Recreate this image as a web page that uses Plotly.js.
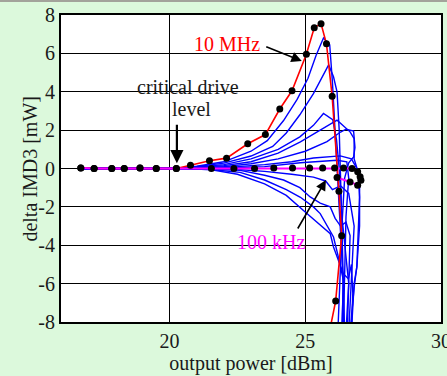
<!DOCTYPE html>
<html>
<head>
<meta charset="utf-8">
<script src="https://cdn.plot.ly/plotly-3.0.1.min.js"></script>
<style>
html,body{margin:0;padding:0;background:#dcf9dc;}
#topbar{position:absolute;left:0;top:0;width:447px;height:2px;background:#a3a39b;z-index:5;}
#chart{width:447px;height:376px;}
</style>
</head>
<body>
<div id="topbar"></div>
<div id="chart"></div>
<script>
// 10 MHz curve (red, with measured points)
const redX = [16.73, 17.22, 17.87, 18.33, 18.91, 19.51, 20.25, 20.77, 21.47, 22.10, 22.88, 23.53, 24.06, 24.51, 25.04, 25.33, 25.58, 25.78, 25.99, 26.24, 26.34, 26.12, 25.92];
const redY = [0.03, 0, 0, 0, 0.03, 0, 0, 0.17, 0.40, 0.54, 1.29, 1.77, 3.10, 4.05, 5.95, 7.34, 7.55, 6.50, 3.76, -1.18, -3.50, -6.90, -8.3];
// 100 kHz curve (magenta, with measured points)
const magX = [16.73, 17.22, 17.87, 18.33, 18.91, 19.51, 20.25, 21.54, 22.37, 23.13, 23.84, 24.53, 25.16, 25.64, 26.08, 26.41, 26.72, 26.93, 27.02, 27.05, 26.93, 26.65, 26.17];
const magY = [0.03, 0, 0, 0, 0.03, 0, 0, 0, 0, 0, 0.03, 0.03, 0.03, 0.03, 0.03, 0.03, 0, -0.17, -0.43, -0.61, -0.87, -0.70, -0.47];
// intermediate frequencies (blue)
const blue1X = [16.7, 20.2, 21.0, 22.0, 23.0, 23.6, 24.2, 24.7, 25.1, 25.4, 25.67, 25.9, 26.0, 26.1, 26.2, 26.3, 26.4, 26.45];
const blue1Y = [0, 0, 0.12, 0.35, 0.9, 1.45, 2.5, 3.6, 4.7, 5.9, 6.8, 6.45, 4.5, 2.0, -0.5, -3.0, -6.0, -8.5];
const blue2X = [16.7, 20.2, 21.0, 22.0, 23.0, 23.8, 24.3, 24.8, 25.3, 25.86, 26.04, 26.17, 26.25, 26.3, 26.35, 26.4, 26.35];
const blue2Y = [0, 0, 0.1, 0.28, 0.65, 1.15, 1.85, 2.8, 3.9, 5.4, 4.78, 4.0, 2.0, 0, -3.0, -6.0, -8.5];
const blue3X = [16.7, 20.2, 21.0, 22.0, 23.0, 24.0, 24.8, 25.3, 25.67, 26.01, 26.15, 26.25, 26.35, 26.5, 26.6, 26.55];
const blue3Y = [0, 0, 0.08, 0.2, 0.5, 1.0, 1.65, 2.25, 2.87, 2.55, 1.5, 0, -2.5, -4.8, -6.0, -8.5];
const blue4X = [16.7, 20.2, 21.0, 22.0, 23.0, 24.0, 24.82, 25.5, 26.17, 26.65, 26.8, 26.8, 26.95, 27.0, 26.95, 26.9, 26.8, 26.65];
const blue4Y = [0, 0, 0.06, 0.15, 0.35, 0.8, 1.39, 1.95, 2.52, 1.91, 1.55, 0.5, -0.2, -1.5, -3.0, -5.1, -6.2, -8.5];
const blue5X = [16.7, 20.2, 21.0, 22.0, 23.0, 24.0, 25.0, 25.8, 26.3, 26.5, 26.78, 26.83, 26.78, 26.6, 26.45, 26.35, 26.3, 26.2];
const blue5Y = [0, 0, 0.04, 0.1, 0.25, 0.5, 0.9, 1.4, 1.9, 2.05, 1.95, 1.1, 0.6, 0.3, -0.5, -3.0, -5.0, -8.5];
const blue6X = [16.7, 20.2, 21.5, 22.5, 23.5, 24.5, 25.3, 26.0, 26.29, 26.7, 26.9, 27.0, 27.0, 26.9, 26.8, 26.7];
const blue6Y = [0, 0, 0.05, 0.1, 0.2, 0.35, 0.55, 0.65, 0.66, 0.5, 0.0, -0.8, -3.0, -5.13, -6.0, -8.5];
const blue7X = [16.7, 20.2, 21.5, 22.5, 23.5, 24.82, 25.5, 26.17, 26.53, 26.6, 26.5, 26.45, 26.4];
const blue7Y = [0, 0, 0.03, 0.05, 0.1, 0.3, 0.38, 0.43, 0.35, -0.5, -2.5, -5.0, -8.5];
const blue8X = [16.7, 20.2, 21.5, 22.5, 23.5, 24.5, 25.3, 25.75, 26.0, 26.3, 26.6, 26.8, 26.7, 26.6];
const blue8Y = [0, 0, -0.02, -0.05, -0.15, -0.3, -0.45, -0.65, -1.1, -0.9, -1.3, -3.0, -5.5, -8.5];
const blue9X = [16.7, 20.2, 21.5, 22.6, 23.5, 24.2, 24.8, 25.18, 25.55, 25.92, 26.1, 26.3, 26.5, 26.65, 26.6, 26.5];
const blue9Y = [0, 0, -0.03, -0.1, -0.35, -0.6, -1.0, -1.48, -1.8, -2.0, -2.6, -3.0, -2.8, -3.5, -6.0, -8.5];
const blue10X = [16.7, 20.2, 21.5, 22.6, 23.5, 24.3, 24.82, 25.3, 25.55, 26.04, 26.2, 26.29, 26.4, 26.35];
const blue10Y = [0, 0, -0.05, -0.2, -0.6, -1.1, -1.5, -2.0, -2.35, -3.57, -4.5, -5.13, -5.8, -8.5];
const blue11X = [16.7, 20.2, 21.5, 22.5, 23.5, 24.3, 25.06, 25.6, 25.92, 26.04, 26.4, 26.59, 26.7, 26.75, 26.7];
const blue11Y = [0, 0, -0.06, -0.3, -0.8, -1.4, -2.35, -3.0, -3.4, -4.09, -5.48, -5.74, -5.0, -6.5, -8.5];

const xTicks = [20, 25, 30];
const yTicks = [-8, -6, -4, -2, 0, 2, 4, 6, 8];

const blues = [[blue1X, blue1Y], [blue2X, blue2Y], [blue3X, blue3Y], [blue4X, blue4Y], [blue5X, blue5Y],
  [blue6X, blue6Y], [blue7X, blue7Y], [blue8X, blue8Y], [blue9X, blue9Y], [blue10X, blue10Y], [blue11X, blue11Y]];

const traces = blues.map(b => ({
  x: b[0], y: b[1], mode: 'lines', type: 'scatter', line: {color: '#0000ff', width: 1.4}, hoverinfo: 'skip'
}));
traces.push({x: redX, y: redY, mode: 'lines', line: {color: '#ff0000', width: 1.6}});
traces.push({x: magX, y: magY, mode: 'lines', line: {color: '#ff00ff', width: 2}});
traces.push({x: redX.slice(0, redX.length - 1), y: redY.slice(0, redY.length - 1), mode: 'markers', marker: {color: '#000', size: 7}});
traces.push({x: magX, y: magY, mode: 'markers', marker: {color: '#000', size: 7}});

const F = 'Liberation Serif, Times New Roman, serif';
const layout = {
  width: 447, height: 376,
  margin: {l: 61, r: 6, t: 15, b: 54},
  paper_bgcolor: '#dcf9dc', plot_bgcolor: '#ffffff',
  showlegend: false,
  font: {family: F, size: 20, color: '#1a1a1a'},
  xaxis: {
    range: [16, 30], tickvals: xTicks, ticktext: xTicks.map(String),
    showgrid: true, gridcolor: '#000', gridwidth: 1, zeroline: false,
    showline: true, linecolor: '#000', linewidth: 2, mirror: true, ticks: '',
    ticklabeloverflow: 'allow', automargin: false,
    title: {text: 'output power [dBm]', font: {family: F, size: 20}, standoff: 4},
    tickfont: {family: F, size: 20}
  },
  yaxis: {
    range: [-8, 8], tickvals: yTicks, ticktext: yTicks.map(String),
    showgrid: true, gridcolor: '#000', gridwidth: 1, zeroline: false,
    showline: true, linecolor: '#000', linewidth: 2, mirror: true, ticks: '',
    automargin: false,
    tickfont: {family: F, size: 20}
  },
  annotations: [
    {xref: 'paper', yref: 'paper', x: -0.084, y: 0.5, text: 'delta IMD3 [mW]', textangle: -90, showarrow: false,
     xanchor: 'center', yanchor: 'middle', font: {family: F, size: 20, color: '#1a1a1a'}},
    {x: 22.12, y: 6.49, text: '10 MHz', showarrow: false, font: {family: F, size: 20, color: '#ff0000'}},
    {x: 24.87, y: 5.6, ax: -37, ay: -15, text: '', showarrow: true, arrowhead: 2, arrowsize: 1.3, arrowwidth: 1.6, arrowcolor: '#000'},
    {x: 20.67, y: 4.26, text: 'critical drive', showarrow: false, font: {family: F, size: 20, color: '#1a1a1a'}},
    {x: 20.82, y: 3.10, text: 'level', showarrow: false, font: {family: F, size: 20, color: '#1a1a1a'}},
    {x: 20.27, y: 0.27, ax: 0, ay: -40, text: '', showarrow: true, arrowhead: 2, arrowsize: 1.2, arrowwidth: 2.2, arrowcolor: '#000'},
    {x: 23.73, y: -3.81, text: '100 kHz', showarrow: false, font: {family: F, size: 20, color: '#ff00ff'}},
    {x: 25.76, y: -0.6, ax: -29, ay: 50, text: '', showarrow: true, arrowhead: 2, arrowsize: 1.3, arrowwidth: 1.6, arrowcolor: '#000'}
  ]
};
Plotly.newPlot('chart', traces, layout, {displayModeBar: false, staticPlot: true});
</script>
</body>
</html>
